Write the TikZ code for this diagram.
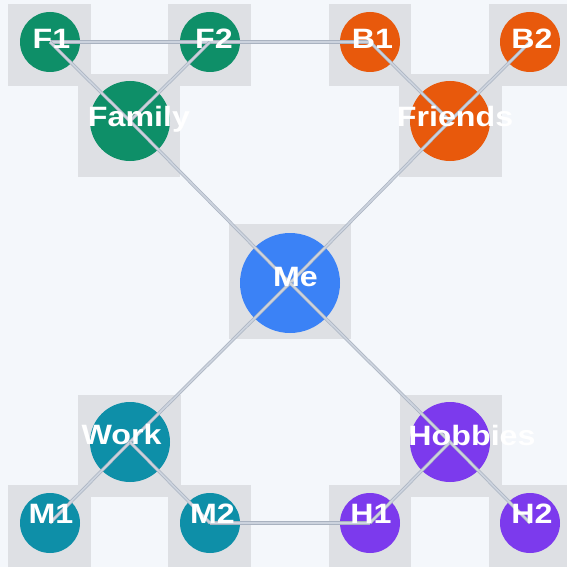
\documentclass[tikz,border=0pt]{standalone}
\usepackage{fontspec}
\newfontfamily\labfont{Liberation Sans}[FakeStretch=1.15]
\definecolor{bg}{HTML}{F4F7FB}
\definecolor{sq}{HTML}{DEE0E4}
\definecolor{cgreen}{HTML}{0E8F68}
\definecolor{corange}{HTML}{E8590C}
\definecolor{cblue}{HTML}{3B82F6}
\definecolor{cteal}{HTML}{0E8FA8}
\definecolor{cpurple}{HTML}{7C3AED}
\definecolor{edgeout}{HTML}{A9B2C0}
\definecolor{edgein}{HTML}{CCD3DE}
\tikzset{
  sqbox/.style={fill=sq, draw=none},
  dot/.style={circle, inner sep=0pt, minimum size=#1, draw=none},
  edge/.style={draw=edgeout, line width=0.7pt, double=edgein, double distance=1.8pt},
  lab/.style={anchor=base, inner sep=0pt, text=white, font=\labfont\bfseries\fontsize{28}{28}\selectfont}
}
\begin{document}
\begin{tikzpicture}[x=1pt, y=-1pt]
\fill[bg] (0,0) rectangle (567,567);
\useasboundingbox (0,0) rectangle (567,567);
% squares
\fill[sqbox] (8,4) rectangle (91,86);
\fill[sqbox] (168,4) rectangle (251,86);
\fill[sqbox] (329,4) rectangle (411,86);
\fill[sqbox] (489,4) rectangle (567,86);
\fill[sqbox] (78,74) rectangle (180,177);
\fill[sqbox] (399,74) rectangle (502,177);
\fill[sqbox] (229,224) rectangle (351,339);
\fill[sqbox] (78,395) rectangle (181,497);
\fill[sqbox] (400,395) rectangle (502,497);
\fill[sqbox] (8,485) rectangle (91,567);
\fill[sqbox] (168,485) rectangle (251,567);
\fill[sqbox] (329,485) rectangle (411,567);
\fill[sqbox] (489,485) rectangle (567,567);
% circles
\node[dot=60pt, fill=cgreen] (F1) at (50,42) {};
\node[dot=60pt, fill=cgreen] (F2) at (210,42) {};
\node[dot=60pt, fill=corange] (B1) at (370,42) {};
\node[dot=60pt, fill=corange] (B2) at (530,42) {};
\node[dot=80pt, fill=cgreen] (Family) at (130,121) {};
\node[dot=80pt, fill=corange] (Friends) at (450,121) {};
\node[dot=100pt, fill=cblue] (Me) at (290,283) {};
\node[dot=80pt, fill=cteal] (Work) at (130,442) {};
\node[dot=80pt, fill=cpurple] (Hobbies) at (450,442) {};
\node[dot=60pt, fill=cteal] (M1) at (50,523) {};
\node[dot=60pt, fill=cteal] (M2) at (210,523) {};
\node[dot=60pt, fill=cpurple] (H1) at (370,523) {};
\node[dot=60pt, fill=cpurple] (H2) at (530,523) {};
% edges
\draw[edge] (F1.center) -- (F2.center);
\draw[edge] (F2.center) -- (B1.center);
\draw[edge] (M2.center) -- (H1.center);
\draw[edge] (F1.center) -- (Family.center);
\draw[edge] (F2.center) -- (Family.center);
\draw[edge] (B1.center) -- (Friends.center);
\draw[edge] (B2.center) -- (Friends.center);
\draw[edge] (Family.center) -- (Me.center);
\draw[edge] (Friends.center) -- (Me.center);
\draw[edge] (Me.center) -- (Work.center);
\draw[edge] (Me.center) -- (Hobbies.center);
\draw[edge] (Work.center) -- (M1.center);
\draw[edge] (Work.center) -- (M2.center);
\draw[edge] (Hobbies.center) -- (H1.center);
\draw[edge] (Hobbies.center) -- (H2.center);
% labels
\node[lab] (tF1) at (51.5,49) {F1};
\node[lab] (tF2) at (214,49) {F2};
\node[lab] (tB1) at (372.5,49) {B1};
\node[lab] (tB2) at (532,49) {B2};
\node[lab] (tFamily) at (139,127) {Family};
\node[lab] (tFriends) at (455,126) {Friends};
\node[lab] (tMe) at (295.5,286) {Me};
\node[lab] (tWork) at (121.5,444) {Work};
\node[lab] (tHobbies) at (472,445) {Hobbies};
\node[lab] (tM1) at (51,523) {M1};
\node[lab] (tM2) at (212.5,523) {M2};
\node[lab] (tH1) at (371,523) {H1};
\node[lab] (tH2) at (532,523) {H2};
\end{tikzpicture}
\end{document}
